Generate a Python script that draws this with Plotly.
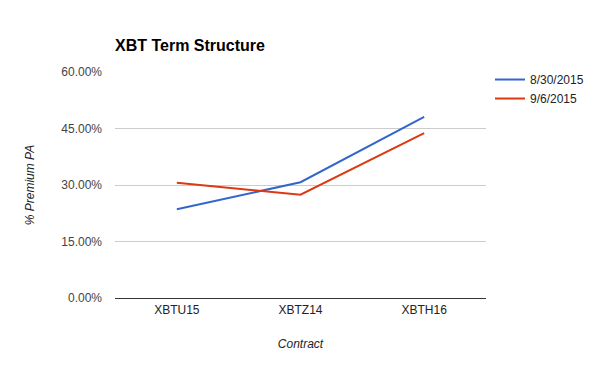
import plotly.graph_objects as go

contracts = ["XBTU15", "XBTZ14", "XBTH16"]
series_names = ["8/30/2015", "9/6/2015"]
premium_0830 = [0.2355, 0.3074, 0.481]
premium_0906 = [0.3058, 0.2742, 0.438]
colors = ["#3366cc", "#dc3912"]

# page body has an 8px margin; figure is sized/offset to compensate
OFF = 8
W, H = 600 - OFF, 371 - OFF
L, T = 115 - OFF, 71.5 - OFF
PW, PH = 371, 227

fig = go.Figure()
for name, vals, col in zip(series_names, [premium_0830, premium_0906], colors):
    fig.add_trace(go.Scatter(x=contracts, y=vals, mode="lines", name=name,
                             line=dict(color=col, width=2)))

fig.update_layout(
    width=W, height=H,
    margin=dict(l=L, r=W - L - PW, t=T, b=H - T - PH, autoexpand=False),
    paper_bgcolor="white", plot_bgcolor="white",
    font=dict(family="Liberation Sans, Arial, sans-serif", size=12, color="#444"),
    title=dict(text="<b>XBT Term Structure</b>", x=(115 - OFF) / W, xanchor="left",
               y=1 - (45 - OFF) / H, yanchor="middle",
               font=dict(size=16, color="#000")),
    legend=dict(x=(490 - 115) / PW, y=1 + 7 / PH, xanchor="left", yanchor="top",
                font=dict(size=12, color="#222"), bgcolor="rgba(0,0,0,0)"),
    xaxis=dict(range=[-0.5, 2.5], showgrid=False, showline=False, ticks="",
               tickfont=dict(size=12, color="#222"), ticklabelstandoff=3,
               title=dict(text="<i>Contract</i>", font=dict(size=12, color="#222"), standoff=23)),
    yaxis=dict(range=[0, 0.6], tickvals=[0, 0.15, 0.3, 0.45, 0.6], tickformat=".2%",
               gridcolor="#cccccc", gridwidth=1, zeroline=True, zerolinecolor="#333",
               zerolinewidth=1, showline=False, ticks="", ticklabelstandoff=12,
               tickfont=dict(size=12, color="#444"),
               title=dict(text="<i>% Premium PA</i>", font=dict(size=12, color="#222"), standoff=24)),
)
fig.write_html("out.html")
